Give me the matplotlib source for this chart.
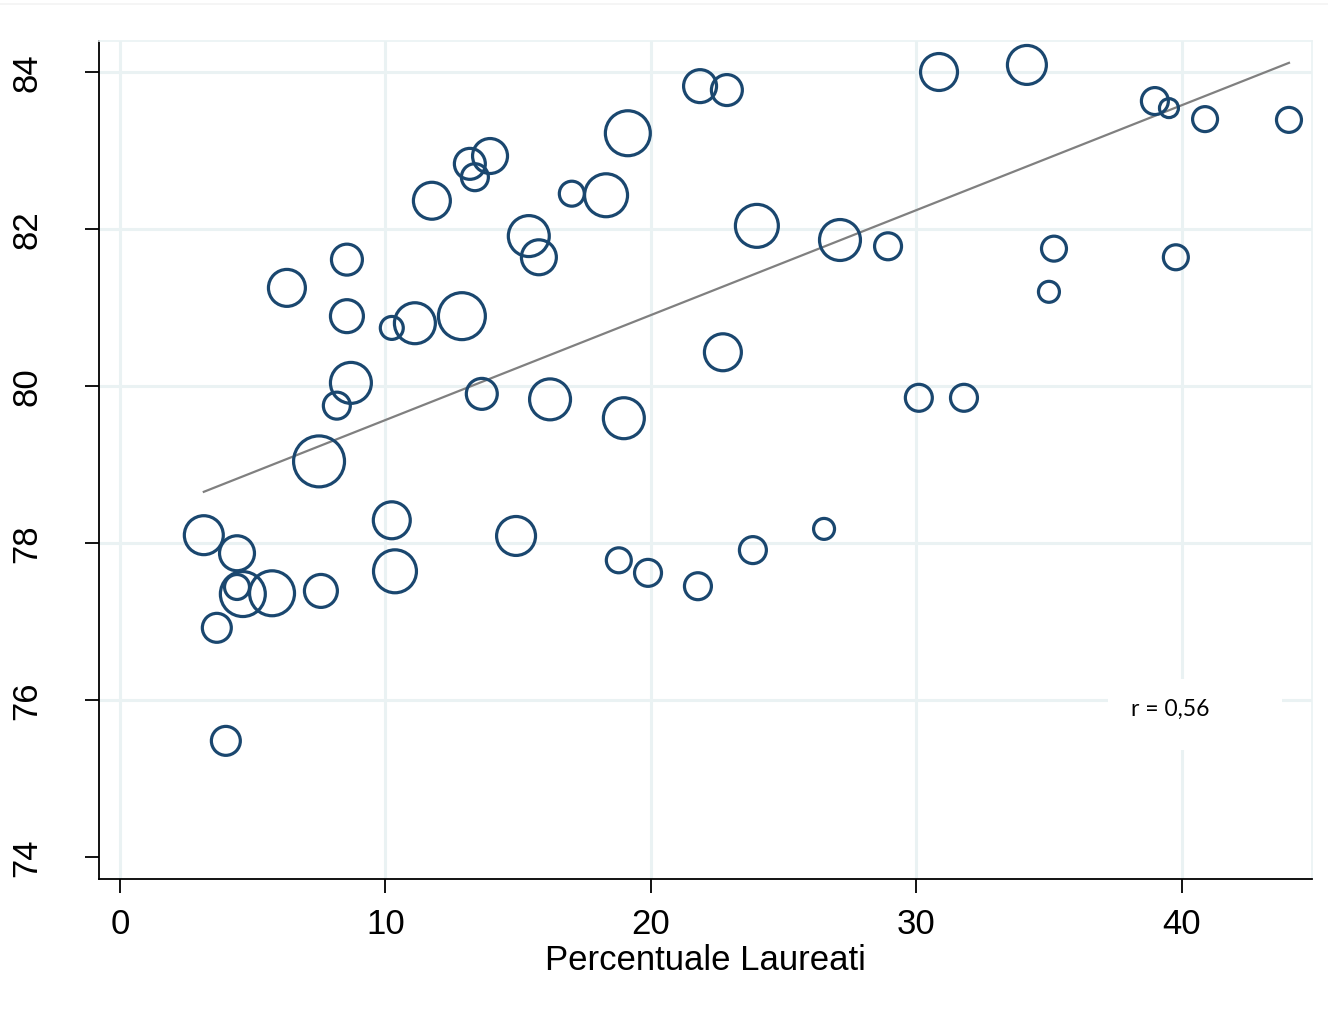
import matplotlib
matplotlib.use("Agg")
import matplotlib.pyplot as plt
from matplotlib.lines import Line2D
from matplotlib.patches import Rectangle
import numpy as np

plt.rcParams["font.family"] = ["Liberation Sans", "DejaVu Sans"]

# percentuale laureati (x), speranza di vita (y), peso (dimensione del cerchio)
laureati = [3.16, 4.41, 4.41, 4.63, 5.73, 3.65, 3.99, 7.57, 7.50, 8.17,
            8.70, 8.55, 8.55, 6.29, 10.24, 10.36, 10.24, 11.11, 12.88, 11.75,
            13.18, 13.94, 13.37, 13.63, 14.92, 15.40, 15.78, 16.20, 17.02, 18.31,
            19.13, 18.98, 18.79, 19.89, 21.77, 21.85, 22.86, 22.71, 23.99, 23.84,
            26.52, 27.12, 28.93, 30.09, 30.85, 31.79, 34.16, 34.99, 35.18, 38.98,
            39.51, 39.77, 40.87, 44.03]
vita = [78.10, 77.87, 77.44, 77.35, 77.36, 76.92, 75.48, 77.39, 79.04, 79.75,
        80.04, 80.89, 81.61, 81.25, 78.29, 77.64, 80.74, 80.80, 80.89, 82.36,
        82.83, 82.93, 82.66, 79.90, 78.09, 81.91, 81.64, 79.83, 82.45, 82.43,
        83.22, 79.59, 77.78, 77.62, 77.45, 83.82, 83.77, 80.43, 82.04, 77.91,
        78.18, 81.86, 81.78, 79.85, 84.00, 79.85, 84.09, 81.20, 81.75, 83.63,
        83.54, 81.64, 83.40, 83.39]
peso = [38.0, 30.6, 15.6, 50.6, 50.6, 21.0, 21.0, 27.2, 65.0, 18.2,
        42.0, 27.2, 24.0, 34.2, 34.2, 46.2, 13.2, 42.0, 55.2, 34.2,
        24.0, 30.6, 18.2, 24.0, 38.0, 42.0, 30.6, 42.0, 15.6, 46.2,
        50.6, 42.0, 15.6, 18.2, 18.2, 27.2, 24.0, 34.2, 46.2, 18.2,
        11.0, 42.0, 18.2, 18.2, 34.2, 18.2, 38.0, 11.0, 15.6, 18.2,
        9.0, 15.6, 15.6, 15.6]

# retta stimata (ponderata)
retta_intercetta = 78.23
retta_pendenza = 0.1337
r_testo = "r = 0,56"

x = np.array(laureati)
y = np.array(vita)
w = np.array(peso)

NAVY = "#1a476f"
GRID = "#eaf2f3"

fig = plt.figure(figsize=(13.28, 10.12), dpi=100)
ax = fig.add_axes([0.0745, 0.1304, 0.9135, 0.8281])

# riga chiarissima del bordo esterno
fig.add_artist(Line2D([0, 1], [1 - 5 / 1012, 1 - 5 / 1012],
                      transform=fig.transFigure, color="#f3f3f3", lw=1.2))

ax.set_xlim(-0.79, 44.9)
ax.set_ylim(73.72, 84.395)

# griglia (niente linea a 74, come in Stata)
for xv in [0, 10, 20, 30, 40]:
    ax.axvline(xv, color=GRID, lw=2.2, zorder=0)
for yv in [76, 78, 80, 82, 84]:
    ax.axhline(yv, color=GRID, lw=2.2, zorder=0)

xf = np.array([x.min(), x.max()])
ax.plot(xf, retta_intercetta + retta_pendenza * xf, color="#808080", lw=1.6, zorder=2)

ax.scatter(x, y, s=w * 20.7, facecolors="none", edgecolors=NAVY,
           linewidths=2.3, zorder=3)

# riquadro bianco dell'etichetta
ax.add_patch(Rectangle((37.21, 75.36), 43.77 - 37.21, 76.27 - 75.36,
                       facecolor="white", edgecolor="none", zorder=1))
ax.text(38.08, 75.89, r_testo, fontsize=16.5, family=["Lato", "DejaVu Sans"],
        ha="left", va="center", zorder=4)

for side in ["top", "right"]:
    ax.spines[side].set_color(GRID)
    ax.spines[side].set_linewidth(1.2)
for side in ["left", "bottom"]:
    ax.spines[side].set_color("black")
    ax.spines[side].set_linewidth(1.3)

ax.set_xticks([0, 10, 20, 30, 40])
ax.set_yticks([74, 76, 78, 80, 82, 84])
ax.tick_params(axis="both", direction="out", length=10, width=1.3,
               labelsize=25, color="black")
ax.tick_params(axis="x", pad=10)
ax.tick_params(axis="y", pad=30)
for lab in ax.get_yticklabels():
    lab.set_rotation(90)
    lab.set_va("center")

ax.set_xlabel("Percentuale Laureati", fontsize=25, labelpad=2)

fig.savefig("out.png", dpi=100, facecolor="white")
